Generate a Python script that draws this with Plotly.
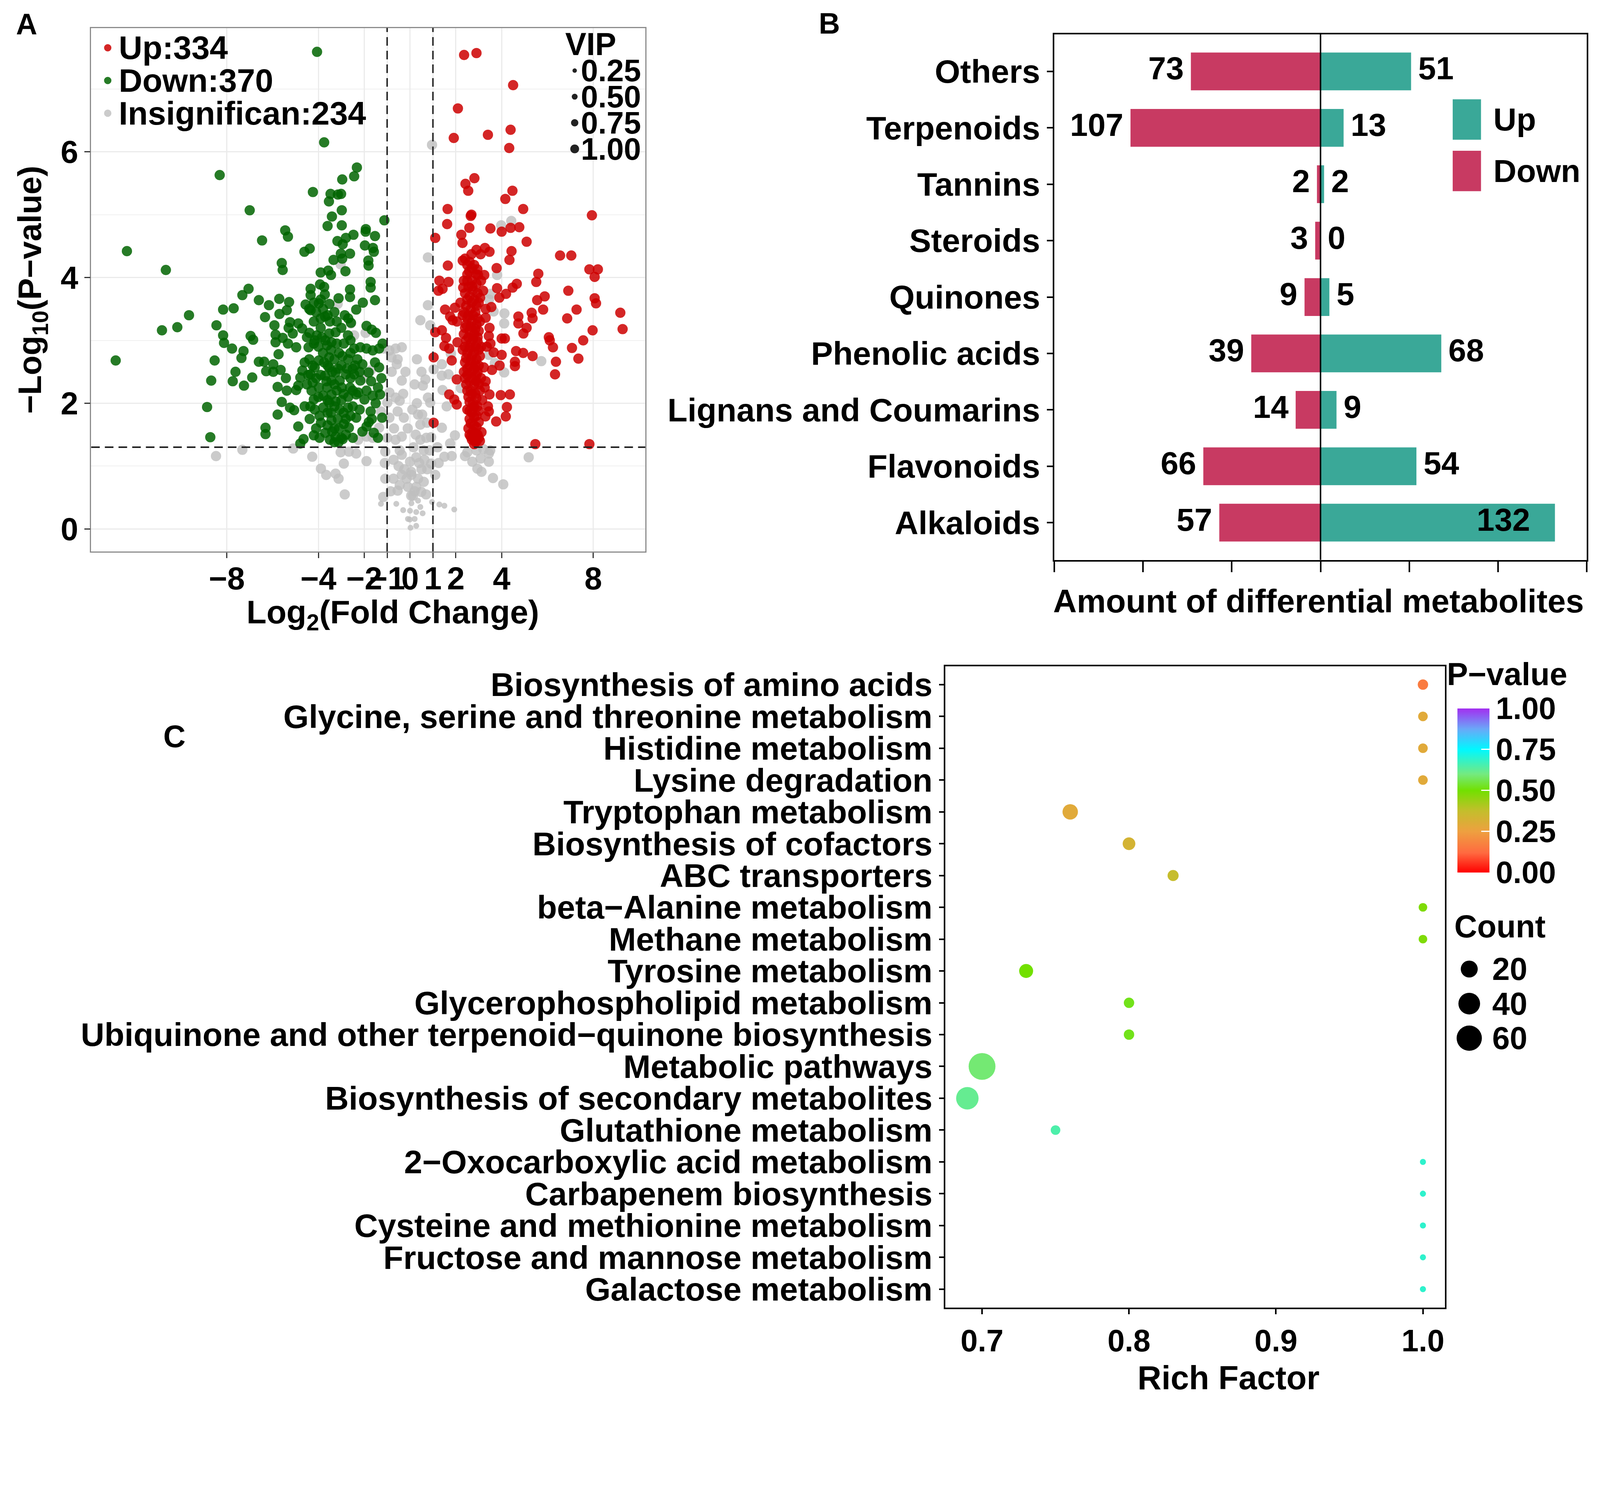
import math
import plotly.graph_objects as go

# Layout is measured on the 4341 x 3815 reference; the page viewport is ~4086 css px wide,
# so every pixel quantity is scaled by K and shifted by the 8px body margin.
REF_W, REF_H = 4341, 3815
K = 4086 / REF_W
FIG_W = round(REF_W * K) - 16
FIG_H = round(REF_H * K) - 16
FONT = "Liberation Sans, Arial, Helvetica, sans-serif"

# ---------------- Panel A: volcano plot ----------------
FC_CUT = 1.0          # |log2 FC| threshold
P_CUT = 0.05          # p-value threshold
x_ticks = [-8, -4, -2, -1, 0, 1, 2, 4, 8]
y_ticks = [0, 2, 4, 6]
legend_counts = {"Up": 334, "Down": 370, "Insignifican": 234}
vip_levels = [0.25, 0.50, 0.75, 1.00]

down_pts = [
    (-4.06, 7.59), (-3.75, 6.15), (-8.31, 5.63), (-2.32, 5.75), (-2.44, 5.61), (-2.96, 5.56),
    (-4.24, 5.36), (-3.47, 5.33), (-3.15, 5.32), (-3.01, 5.33), (-3.54, 5.21), (-7.0, 5.07),
    (-2.98, 5.07), (-3.41, 4.97), (-1.12, 4.91), (-3.6, 4.82), (-2.98, 4.83), (-5.45, 4.75),
    (-5.33, 4.65), (-6.46, 4.59), (-1.93, 4.77), (-1.94, 4.73), (-1.53, 4.66), (-2.47, 4.68),
    (-2.8, 4.63), (-3.17, 4.58), (-2.94, 4.53), (-1.97, 4.51), (-1.62, 4.47), (-1.58, 4.41),
    (-4.38, 4.46), (-4.61, 4.41), (-3.02, 4.38), (-2.62, 4.38), (-3.34, 4.28), (-2.96, 4.30),
    (-1.82, 4.27), (-1.81, 4.19), (-5.6, 4.23), (-5.56, 4.12), (-12.36, 4.42), (-10.66, 4.12),
    (-3.9, 4.08), (-3.57, 4.11), (-3.45, 4.04), (-2.82, 4.10), (-3.93, 3.89), (-3.75, 3.85),
    (-4.34, 3.82), (-1.72, 3.93), (-1.72, 3.84), (-2.62, 3.81), (-2.62, 3.69), (-4.34, 3.72),
    (-3.72, 3.73), (-7.05, 3.82), (-7.32, 3.72), (-6.6, 3.64), (-6.16, 3.56), (-5.71, 3.66),
    (-5.28, 3.61), (-1.53, 3.64), (-2.06, 3.6), (-2.35, 3.49), (-4.56, 3.57), (-3.52, 3.58),
    (-8.16, 3.49), (-7.7, 3.51), (-9.65, 3.4), (-6.33, 3.37), (-5.7, 3.42), (-5.38, 3.48),
    (-2.85, 3.4), (-4.4, 3.5), (-4.1, 3.45), (-3.8, 3.5), (-3.6, 3.4), (-4.2, 3.6), (-3.9, 3.65),
    (-12.85, 2.68), (-10.83, 3.16), (-10.16, 3.21), (-8.45, 3.24), (-8.16, 3.08), (-8.12, 2.96),
    (-7.77, 2.87), (-7.27, 2.83), (-7.36, 2.72), (-6.96, 3.07), (-6.85, 3.01), (-8.53, 2.68),
    (-8.68, 2.36), (-7.62, 2.5), (-7.74, 2.35), (-7.25, 2.28), (-6.89, 2.41), (-8.86, 1.94),
    (-8.72, 1.46), (-5.92, 3.24), (-5.87, 3.09), (-5.24, 3.29), (-5.3, 3.2), (-4.88, 3.27),
    (-4.34, 3.48), (-3.71, 3.38), (-3.98, 3.59), (-3.12, 3.67), (-2.58, 3.28), (-1.9, 3.23),
    (-1.67, 3.17), (-1.49, 3.12), (-2.71, 3.08), (-3.25, 3.13), (-3.53, 3.11), (-4.07, 3.08),
    (-4.39, 3.12), (-4.71, 3.19), (-5.12, 3.11), (-5.56, 3.04), (-5.87, 2.97), (-5.33, 2.95),
    (-4.97, 2.89), (-4.43, 2.89), (-4.16, 3.0), (-3.62, 2.92), (-3.43, 2.97), (-2.89, 2.95),
    (-2.44, 2.87), (-2.17, 2.89), (-1.9, 2.87), (-1.63, 2.84), (-1.35, 2.87), (-5.74, 2.78),
    (-6.6, 2.66), (-6.37, 2.66), (-5.97, 2.62), (-5.65, 2.53), (-6.28, 2.51), (-5.97, 2.5),
    (-5.42, 2.4), (-5.78, 2.26), (-5.38, 2.2), (-4.97, 2.21), (-4.88, 2.28), (-4.7, 2.52),
    (-4.79, 2.41), (-4.34, 2.46), (-4.16, 2.57), (-3.98, 2.68), (-3.53, 2.73), (-3.53, 2.57),
    (-3.71, 2.44), (-3.25, 2.49), (-3.43, 2.36), (-3.07, 2.36), (-2.8, 2.46), (-2.98, 2.25),
    (-3.98, 2.25), (-4.25, 2.33), (-3.62, 2.25), (-3.43, 2.14), (-3.79, 2.12), (-3.25, 2.03),
    (-2.62, 2.25), (-2.44, 2.46), (-2.17, 2.36), (-2.26, 2.17), (-2.08, 2.62), (-1.81, 2.49),
    (-1.53, 2.65), (-1.35, 2.57), (-1.4, 2.25), (-1.31, 2.14), (-1.63, 2.12), (-1.99, 2.06),
    (-2.35, 2.14), (-4.2, 2.06), (-5.6, 2.02), (-5.24, 1.93), (-5.06, 1.89), (-5.78, 1.82),
    (-4.16, 1.9), (-3.79, 1.93), (-3.53, 2.01), (-3.07, 1.9), (-2.71, 1.93), (-2.35, 1.77),
    (-1.72, 1.87), (-1.67, 1.75), (-1.22, 1.77), (-4.88, 1.63), (-4.38, 1.75), (-3.89, 1.69),
    (-3.43, 1.73), (-2.89, 1.67), (-2.67, 1.61), (-2.08, 1.55), (-1.9, 1.63), (-1.58, 1.53),
    (-6.31, 1.61), (-6.31, 1.51), (-4.65, 1.43), (-4.2, 1.49), (-3.7, 1.53), (-3.25, 1.47),
    (-3.12, 1.38), (-2.94, 1.43), (-4.79, 1.36), (-3.8, 2.8), (-3.6, 2.6), (-3.3, 2.7),
    (-3.0, 2.6), (-2.7, 2.7), (-3.9, 2.45), (-3.4, 2.5), (-3.1, 2.8), (-2.9, 2.15), (-3.6, 1.85),
    (-3.3, 1.95), (-2.9, 1.85), (-3.1, 1.6), (-3.4, 1.55), (-3.7, 3.0), (-3.9, 3.2), (-2.6, 3.0),
    (-3.5, 3.3), (-4.0, 2.9), (-4.4, 2.7), (-4.5, 2.3), (-4.3, 2.2), (-2.5, 2.55), (-2.3, 2.7),
    (-3.2, 3.3), (-2.8, 1.75), (-3.2, 2.2), (-2.5, 1.95), (-4.6, 1.95), (-3.95, 1.45),
    (-4.2, 3.3), (-3.9, 3.35), (-3.3, 3.45), (-3.0, 3.2), (-2.7, 3.35), (-4.5, 3.05), (-4.2, 2.95),
    (-3.85, 3.05), (-3.45, 2.85), (-3.2, 2.95), (-2.95, 2.75), (-2.6, 2.8), (-4.6, 2.65),
    (-4.25, 2.6), (-3.75, 2.65), (-3.15, 2.55), (-2.75, 2.55), (-2.4, 2.6), (-4.45, 2.45),
    (-4.1, 2.4), (-3.65, 2.35), (-3.3, 2.3), (-2.6, 2.4), (-2.2, 2.5), (-4.0, 2.1), (-3.6, 2.05),
    (-3.0, 2.05), (-2.7, 2.1), (-2.5, 2.2), (-4.35, 1.95), (-3.95, 1.8), (-3.45, 1.85),
    (-3.15, 1.75), (-2.6, 1.8), (-2.2, 1.9), (-4.1, 1.6), (-3.6, 1.65), (-3.3, 1.6), (-2.8, 1.5),
    (-2.5, 1.45), (-3.5, 1.42), (-3.0, 1.45), (-3.3, 1.38), (-1.9, 2.2), (-1.7, 2.35), (-1.5, 2.0),
    (-1.8, 1.7), (-1.4, 1.45), (-1.25, 2.4), (-1.2, 2.95),
]

up_pts = [
    (2.36, 7.54), (2.9, 7.57), (4.5, 7.06), (2.09, 6.69), (1.91, 6.22), (3.4, 6.27), (4.39, 6.35),
    (4.33, 6.06), (2.81, 5.58), (2.42, 5.49), (2.54, 5.38), (4.47, 5.38), (4.16, 5.25),
    (1.64, 5.09), (4.94, 5.09), (2.68, 5.0), (2.65, 4.98), (7.94, 4.99), (1.62, 4.85),
    (2.59, 4.79), (3.51, 4.78), (4.0, 4.73), (4.39, 4.79), (4.77, 4.8), (1.1, 4.63), (2.24, 4.68),
    (2.29, 4.55), (5.09, 4.57), (2.68, 4.37), (2.9, 4.44), (3.27, 4.47), (3.47, 4.41),
    (3.08, 4.37), (4.43, 4.42), (4.34, 4.28), (6.55, 4.35), (7.04, 4.35), (2.3, 4.27),
    (1.65, 4.19), (3.78, 4.15), (7.83, 4.13), (8.2, 4.13), (8.06, 4.01), (5.6, 4.06), (5.51, 3.93),
    (1.28, 3.95), (1.68, 3.93), (1.24, 3.79), (1.42, 3.82), (2.32, 3.84), (2.58, 4.1), (2.5, 3.95),
    (2.72, 3.86), (2.94, 4.13), (2.97, 4.04), (3.24, 4.04), (3.19, 3.79), (3.8, 3.83),
    (4.48, 3.84), (4.66, 3.9), (4.19, 3.74), (3.9, 3.68), (3.06, 3.68), (6.91, 3.79), (5.88, 3.7),
    (5.55, 3.64), (8.06, 3.67), (8.12, 3.59), (5.81, 3.49), (7.27, 3.49), (9.18, 3.44),
    (1.53, 3.49), (1.96, 3.52), (3.55, 3.53), (6.86, 3.35), (5.31, 3.44), (4.73, 3.38),
    (1.75, 3.38), (1.86, 3.32), (1.1, 3.13), (1.39, 3.16), (1.57, 3.04), (1.5, 2.91), (1.71, 2.87),
    (2.07, 2.97), (1.03, 2.73), (1.82, 2.68), (2.04, 2.38), (1.71, 2.14), (1.93, 2.06), (2.04, 1.98),
    (1.03, 1.69), (3.3, 3.36), (3.47, 3.2), (3.44, 3.07), (3.51, 2.95), (3.65, 2.81), (3.58, 2.53),
    (3.91, 2.6), (3.22, 2.57), (3.26, 2.25), (3.47, 2.14), (3.44, 1.87), (3.29, 1.79), (3.12, 1.54),
    (2.86, 1.38), (2.65, 1.47), (3.96, 2.13), (4.36, 2.14), (4.23, 1.94), (4.18, 1.79), (3.76, 1.71),
    (4.0, 3.03), (4.14, 3.03), (4.0, 2.77), (4.63, 2.83), (4.58, 2.66), (4.58, 2.59), (4.94, 2.8),
    (5.35, 2.75), (4.73, 3.27), (4.95, 3.11), (5.09, 3.2), (5.35, 3.35), (6.06, 3.05), (6.1, 3.0),
    (6.24, 2.89), (6.37, 2.66), (6.33, 2.46), (7.07, 2.88), (7.35, 2.71), (7.56, 3.0), (7.97, 3.16),
    (9.28, 3.18), (5.47, 1.35), (7.83, 1.35),
    (2.4, 4.3), (2.6, 4.25), (2.8, 4.2), (2.5, 4.05), (2.7, 3.95), (2.9, 3.9), (2.4, 3.75),
    (2.6, 3.7), (2.8, 3.65), (3.0, 3.6), (2.45, 3.55), (2.65, 3.5), (2.85, 3.45), (2.5, 3.35),
    (2.7, 3.3), (2.9, 3.25), (3.05, 3.3), (2.4, 3.2), (2.6, 3.15), (2.8, 3.1), (2.95, 3.05),
    (2.45, 3.0), (2.65, 2.95), (2.85, 2.9), (2.5, 2.8), (2.7, 2.75), (2.9, 2.7), (3.05, 2.75),
    (2.4, 2.65), (2.6, 2.6), (2.8, 2.55), (2.95, 2.5), (2.5, 2.45), (2.7, 2.4), (2.9, 2.35),
    (2.45, 2.3), (2.65, 2.2), (2.85, 2.15), (3.05, 2.2), (2.55, 2.1), (2.75, 2.0), (2.95, 1.95),
    (2.5, 1.9), (2.7, 1.85), (2.9, 1.8), (2.6, 1.75), (2.8, 1.65), (3.0, 1.7), (2.55, 1.6),
    (2.75, 1.55), (2.95, 1.5), (2.7, 1.42), (2.9, 1.4), (3.1, 2.9), (3.1, 2.4), (2.3, 2.85),
    (2.35, 2.5), (2.3, 3.4), (3.1, 3.95), (3.15, 2.05), (2.2, 3.6), (2.05, 3.3), (3.3, 3.5),
    (3.35, 2.9), (3.3, 2.35), (3.4, 1.95),
    (2.5, 4.2), (2.7, 4.15), (2.9, 4.05), (2.35, 3.95), (2.55, 3.85), (2.75, 3.8), (2.95, 3.75),
    (2.5, 3.65), (2.7, 3.6), (2.9, 3.55), (2.35, 3.45), (2.55, 3.4), (2.75, 3.4), (2.95, 3.35),
    (2.45, 3.25), (2.65, 3.22), (2.85, 3.18), (3.0, 3.15), (2.35, 3.1), (2.55, 3.05), (2.75, 3.02),
    (2.95, 2.98), (2.4, 2.9), (2.6, 2.88), (2.8, 2.82), (3.0, 2.85), (2.45, 2.72), (2.65, 2.68),
    (2.85, 2.62), (3.0, 2.6), (2.5, 2.55), (2.7, 2.5), (2.9, 2.45), (2.4, 2.4), (2.6, 2.35),
    (2.8, 2.3), (3.0, 2.3), (2.5, 2.2), (2.7, 2.15), (2.9, 2.08), (2.6, 2.02), (2.8, 1.95),
    (3.0, 1.88), (2.6, 1.88), (2.8, 1.78), (2.65, 1.68), (2.9, 1.62), (2.6, 1.5), (2.85, 1.52),
    (2.75, 1.45), (3.0, 1.45), (2.8, 1.35), (3.05, 1.4),
]

gray_pts = [
    (-3.03, 4.21), (-3.16, 3.58), (0.96, 6.11), (0.78, 4.32), (4.42, 4.9), (3.98, 4.83), (3.8, 4.04),
    (3.51, 3.74), (3.45, 3.65), (0.78, 3.56), (0.45, 3.32), (4.12, 3.43), (3.65, 3.46),
    (-2.58, 3.27), (-2.44, 3.08), (-1.94, 3.12), (-2.13, 2.46), (-2.0, 2.4), (-1.72, 2.52),
    (-1.17, 2.87), (-0.9, 2.84), (-0.63, 2.87), (-0.36, 2.89), (-0.81, 2.73), (-0.54, 2.7),
    (-0.58, 2.62), (-0.36, 2.36), (-0.9, 2.17), (-0.63, 2.09), (-0.45, 2.04), (-0.99, 2.01),
    (-1.27, 1.87), (-0.9, 1.77), (-0.54, 1.87), (-0.27, 1.77), (-2.26, 1.42), (-1.9, 1.47),
    (-1.63, 1.45), (-1.35, 1.61), (-0.99, 1.45), (-0.63, 1.42), (-0.36, 1.47), (-1.08, 1.23),
    (-0.72, 1.10), (-0.36, 1.18), (0.0, 1.07), (0.05, 0.91), (-0.36, 0.86), (-0.72, 0.80),
    (-1.08, 0.80), (-0.54, 0.61), (-0.09, 0.67), (0.05, 0.53), (-1.17, 0.51), (0.88, 3.24),
    (4.11, 3.27), (1.78, 2.79), (3.44, 2.77), (3.7, 2.64), (4.11, 2.49), (5.73, 2.67), (1.39, 2.62),
    (1.03, 2.54), (1.39, 2.44), (1.68, 2.46), (0.67, 2.38), (0.56, 2.28), (1.42, 2.21), (2.22, 2.24),
    (1.6, 1.95), (0.78, 2.09), (0.88, 2.01), (0.35, 1.82), (0.53, 1.82), (0.45, 1.66), (0.74, 1.69),
    (1.39, 1.61), (1.96, 1.49), (1.75, 1.36), (0.45, 1.42), (0.71, 1.45), (0.92, 1.46), (2.4, 1.16),
    (2.72, 1.07), (3.08, 1.12), (3.44, 1.2), (3.44, 1.07), (3.12, 0.91), (2.94, 0.96), (3.62, 0.81),
    (4.07, 0.71), (5.18, 1.14), (1.5, 1.15), (1.82, 1.16), (0.27, 1.14), (0.63, 1.1), (0.92, 1.04),
    (1.1, 0.86), (0.06, 0.86), (0.35, 0.8), (0.27, 0.67), (0.49, 0.59), (0.13, 0.53), (-8.47, 1.16),
    (-7.32, 1.26), (-5.1, 1.28), (-4.27, 1.15), (-3.89, 0.96), (-3.66, 0.86), (-3.25, 0.88),
    (-3.12, 0.8), (-2.89, 1.04), (-2.85, 0.55), (-3.03, 1.22), (-2.67, 1.23), (-2.35, 1.2),
    (-1.9, 1.08), (-0.2, 2.5), (0.2, 2.3), (0.3, 2.0), (-0.1, 1.6), (0.15, 1.3), (-0.45, 1.25),
    (0.4, 1.05), (-0.25, 0.95), (0.6, 0.75), (0.75, 0.95), (2.5, 1.22), (2.9, 1.25), (3.2, 1.27),
    (3.5, 1.25), (-0.8, 2.5), (-0.3, 2.15), (0.1, 1.9), (0.5, 2.5), (0.3, 2.7), (-0.7, 1.6),
    (-1.1, 1.05), (-0.5, 1.0), (0.25, 1.5), (0.6, 1.25), (0.85, 1.25), (1.2, 1.3), (1.25, 1.05),
    (0.5, 0.95), (-0.15, 0.8), (0.2, 0.6), (0.7, 0.55), (-0.45, 0.7), (-0.85, 0.6),
]
# low-VIP insignificant features (drawn smaller)
gray_small_pts = [
    (-1.27, 0.40), (0.0, 0.29), (-0.09, 0.16), (0.2, 0.16), (-0.01, 0.15), (0.27, 0.05), (0.02, 0.02),
    (1.28, 0.39), (1.5, 0.37), (1.93, 0.31), (0.96, 0.43), (0.27, 0.27), (0.06, 0.41), (0.35, 0.45),
    (-0.6, 0.4), (0.55, 0.25), (-0.3, 0.3), (0.45, 0.35),
]

# ---------------- Panel B: class counts ----------------
classes = ["Alkaloids", "Flavonoids", "Lignans and Coumarins", "Phenolic acids",
           "Quinones", "Steroids", "Tannins", "Terpenoids", "Others"]
up_counts = [132, 54, 9, 68, 5, 0, 2, 13, 51]
down_counts = [57, 66, 14, 39, 9, 3, 2, 107, 73]
LABEL_PAD = 4         # gap between bar end and its label (count units)
INSIDE_PAD = 14       # long bars carry their label inside the bar end

# ---------------- Panel C: KEGG enrichment ----------------
pathways = ["Biosynthesis of amino acids", "Glycine, serine and threonine metabolism",
            "Histidine metabolism", "Lysine degradation", "Tryptophan metabolism",
            "Biosynthesis of cofactors", "ABC transporters", "beta\u2212Alanine metabolism",
            "Methane metabolism", "Tyrosine metabolism", "Glycerophospholipid metabolism",
            "Ubiquinone and other terpenoid\u2212quinone biosynthesis", "Metabolic pathways",
            "Biosynthesis of secondary metabolites", "Glutathione metabolism",
            "2\u2212Oxocarboxylic acid metabolism", "Carbapenem biosynthesis",
            "Cysteine and methionine metabolism", "Fructose and mannose metabolism",
            "Galactose metabolism"]
rich_factor = [1.0, 1.0, 1.0, 1.0, 0.76, 0.80, 0.83, 1.0, 1.0, 0.73, 0.80, 0.80, 0.70, 0.69,
               0.75, 1.0, 1.0, 1.0, 1.0, 1.0]
p_values = [0.16, 0.29, 0.29, 0.29, 0.29, 0.33, 0.37, 0.48, 0.48, 0.50, 0.52, 0.52, 0.59, 0.62,
            0.65, 0.69, 0.69, 0.69, 0.69, 0.69]
counts = [4, 3, 3, 3, 15, 8, 5, 2, 2, 11, 4, 4, 70, 44, 3, 1, 1, 1, 1, 1]
count_breaks = [20, 40, 60]
p_breaks = [0.0, 0.25, 0.5, 0.75, 1.0]


def px(x):
    return (x * K - 8) / FIG_W


def py(y):
    return 1 - (y * K - 8) / FIG_H


def s(v):
    return v * K


def bold(size):
    return dict(family=FONT, size=s(size), color="black", weight="bold")


D_MIN, D_MAX = 16.5, 73.0


def count_diam(c):
    lo, hi = min(counts), max(counts)
    return s(D_MIN + (D_MAX - D_MIN) * math.sqrt(max(c - lo, 0) / (hi - lo)))


p_scale = [[0.0, "#FF0000"], [0.12, "#FF6A40"], [0.25, "#EEA040"], [0.375, "#C4BE2C"],
           [0.5, "#72E000"], [0.6, "#74EA80"], [0.75, "#00F8FF"], [0.875, "#6AA8F8"],
           [1.0, "#A22EF0"]]

fig = go.Figure()

# panel A points
for pts, color, size, alpha in [(gray_small_pts, "#BEBEBE", 16, 0.8),
                                (gray_pts, "#BEBEBE", 28, 0.8),
                                (down_pts, "#006400", 28, 0.85),
                                (up_pts, "#CC0000", 28, 0.85)]:
    fig.add_trace(go.Scatter(x=[p[0] for p in pts], y=[p[1] for p in pts], mode="markers",
                             marker=dict(color=color, size=s(size), opacity=alpha, line_width=0),
                             xaxis="x", yaxis="y", showlegend=False, hoverinfo="skip"))

# panel B bars and their count labels
fig.add_trace(go.Bar(y=classes, x=[-v for v in down_counts], orientation="h", width=0.67,
                     marker=dict(color="#C83A62", line_width=0),
                     xaxis="x2", yaxis="y2", showlegend=False))
fig.add_trace(go.Bar(y=classes, x=up_counts, orientation="h", width=0.67,
                     marker=dict(color="#3AA898", line_width=0),
                     xaxis="x2", yaxis="y2", showlegend=False))
label_x = [-(v + LABEL_PAD) for v in down_counts] + \
          [v - INSIDE_PAD if v >= 100 else v + LABEL_PAD for v in up_counts]
label_pos = ["middle left"] * len(down_counts) + \
            ["middle left" if v >= 100 else "middle right" for v in up_counts]
fig.add_trace(go.Scatter(x=label_x, y=classes + classes, mode="text",
                         text=[str(v) for v in down_counts + up_counts],
                         textposition=label_pos, textfont=bold(87), cliponaxis=False,
                         xaxis="x2", yaxis="y2", showlegend=False, hoverinfo="skip"))

# panel C bubbles
fig.add_trace(go.Scatter(
    x=rich_factor, y=pathways, mode="markers", xaxis="x3", yaxis="y3", showlegend=False,
    marker=dict(color=p_values, colorscale=p_scale, cmin=0, cmax=1,
                size=[count_diam(c) for c in counts], sizemode="diameter", line_width=0, opacity=1,
                colorbar=dict(x=px(3953), xanchor="left", y=py(2150), yanchor="middle",
                              len=s(467), lenmode="pixels", thickness=s(87), thicknessmode="pixels",
                              tickvals=p_breaks, ticktext=["%.2f" % v for v in p_breaks],
                              ticks="inside", ticklen=s(22), tickwidth=s(3), tickcolor="white",
                              tickfont=bold(84), outlinewidth=0))))

axis_common = dict(showgrid=False, zeroline=False, showline=True, mirror=True)

fig.update_layout(
    width=FIG_W, height=FIG_H, margin=dict(l=0, r=0, t=0, b=0),
    paper_bgcolor="white", plot_bgcolor="white", barmode="relative",
    font=dict(family=FONT, color="black", weight="bold"),
    xaxis=dict(domain=[px(248), px(1755)], range=[-13.92, 10.27], anchor="y",
               tickvals=x_ticks, ticktext=[str(v).replace("-", "\u2212") for v in x_ticks],
               tickangle=0, ticks="outside", ticklen=s(15), tickwidth=s(3), tickcolor="#333333",
               tickfont=bold(86), showgrid=True, gridcolor="#EBEBEB", gridwidth=s(3),
               zeroline=False, showline=True, linecolor="#8C8C8C", linewidth=s(3), mirror=True),
    yaxis=dict(domain=[py(1500), py(76)], range=[-0.357, 7.97], anchor="x",
               tickvals=y_ticks, ticks="outside", ticklen=s(15), tickwidth=s(3), tickcolor="#333333",
               tickfont=bold(86), showgrid=True, gridcolor="#EBEBEB", gridwidth=s(3),
               minor=dict(tickvals=[1, 3, 5, 7], showgrid=True, gridcolor="#F0F0F0",
                          gridwidth=s(2)),
               zeroline=False, showline=True, linecolor="#8C8C8C", linewidth=s(3), mirror=True),
    xaxis2=dict(domain=[px(2867), px(4316)], range=[-150, 150], anchor="y2",
                tickvals=list(range(-150, 151, 50)), showticklabels=False, ticks="outside",
                ticklen=s(29), tickwidth=s(4), tickcolor="black", linecolor="black",
                linewidth=s(4), **axis_common),
    yaxis2=dict(domain=[py(1523), py(93)], anchor="x2", type="category",
                categoryorder="array", categoryarray=classes, range=[-0.66, 8.66],
                tickmode="array", tickvals=classes, ticktext=classes,
                ticks="outside", ticklen=s(16), tickwidth=s(4), tickcolor="black",
                tickfont=bold(89), linecolor="black", linewidth=s(4), **axis_common),
    xaxis3=dict(domain=[px(2571), px(3930)], range=[0.675, 1.015], anchor="y3",
                tickvals=[0.7, 0.8, 0.9, 1.0], ticktext=["0.7", "0.8", "0.9", "1.0"],
                ticks="outside", ticklen=s(14), tickwidth=s(4), tickcolor="black",
                tickfont=bold(84), linecolor="black", linewidth=s(4), **axis_common),
    yaxis3=dict(domain=[py(3557), py(1812)], anchor="x3", type="category",
                categoryorder="array", categoryarray=pathways, range=[19.58, -0.58],
                tickmode="array", tickvals=pathways, ticktext=pathways,
                ticks="outside", ticklen=s(13), tickwidth=s(4), tickcolor="black",
                tickfont=bold(89), linecolor="black", linewidth=s(4), **axis_common),
)
try:
    fig.layout.xaxis.ticklabelstandoff = round(s(-18))
except ValueError:
    pass

# threshold lines in panel A
dash = dict(color="#222222", width=s(4), dash="%dpx,%dpx" % (s(24), s(14)))
for xv in (-FC_CUT, FC_CUT):
    fig.add_shape(type="line", xref="x", yref="y domain", x0=xv, x1=xv, y0=0, y1=1, line=dash)
p_line = -math.log10(P_CUT)
fig.add_shape(type="line", xref="x domain", yref="y", x0=0, x1=1, y0=p_line, y1=p_line, line=dash)

# zero line in panel B
fig.add_shape(type="line", xref="x2", yref="y2 domain", x0=0, x1=0, y0=0, y1=1,
              line=dict(color="black", width=s(4)), layer="above")


def note(text, x, y, size, xanchor="center", yanchor="middle", angle=0):
    fig.add_annotation(text=text, x=px(x), y=py(y), xref="paper", yref="paper",
                       showarrow=False, xanchor=xanchor, yanchor=yanchor, textangle=angle,
                       font=bold(size))


def dot(x, y, d, color):
    fig.add_shape(type="circle", xref="paper", yref="paper", xsizemode="pixel",
                  ysizemode="pixel", xanchor=px(x), yanchor=py(y), x0=-d / 2, x1=d / 2,
                  y0=-d / 2, y1=d / 2, fillcolor=color, line_width=0)


# panel letters and axis titles
note("A", 72, 66, 80)
note("B", 2256, 64, 80)
note("C", 474, 2003, 84)
note("Log<sub>2</sub>(Fold Change)", 1068, 1671, 89)
note("\u2212Log<sub>10</sub>(P\u2212value)", 87, 788, 88, angle=-90)
note("Amount of differential metabolites", 3586, 1635, 89)
note("Rich Factor", 3341, 3748, 90)

# panel A legends
leg_colors = ["#D42626", "#267B26", "#CBCBCB"]
for i, (name, n) in enumerate(legend_counts.items()):
    yy = 130 + i * 89
    dot(293, yy, s(20), leg_colors[i])
    note("%s:%d" % (name, n), 321, yy, 89, xanchor="left")
note("VIP", 1535, 120, 86, xanchor="left")
for i, v in enumerate(vip_levels):
    yy = 192 + i * 71
    dot(1563, yy, s(8 + 16 * v), "#222222")
    note("%.2f" % v, 1578, yy, 84, xanchor="left")

# panel B legend
for i, (name, color) in enumerate([("Up", "#3AA898"), ("Down", "#C83A62")]):
    y0 = 270 + i * 140
    fig.add_shape(type="rect", xref="paper", yref="paper", x0=px(3951), x1=px(4028),
                  y0=py(y0 + 110), y1=py(y0), fillcolor=color, line_width=0)
    note(name, 4059, y0 + 55, 87, xanchor="left")

# panel C legends
note("P\u2212value", 3933, 1834, 86, xanchor="left")
note("Count", 3953, 2520, 86, xanchor="left")
for i, c in enumerate(count_breaks):
    yy = 2636 + i * 94
    dot(3996, yy, count_diam(c), "black")
    note(str(c), 4056, yy, 86, xanchor="left")

fig.write_html("out.html")
